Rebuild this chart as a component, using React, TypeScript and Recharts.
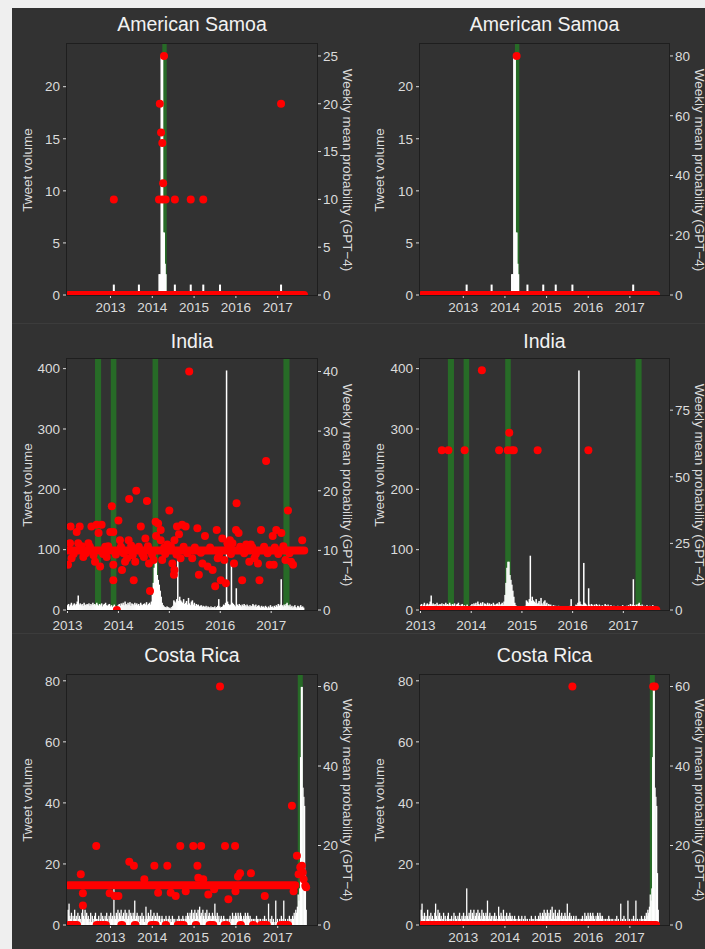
import React from "react";
import { ComposedChart, Bar, Line, Scatter, XAxis, YAxis, ReferenceArea } from "recharts";

const FONT = '"Liberation Sans", Arial, Helvetica, sans-serif';
const TEXT = "#dcdcdc";
const RED = "#ff0000";
const GREEN = "#276b27";

const WEEK = 7 / 365.25;
const INDIA_START = 2013.0;
const COSTA_START = 2011.99;

const yearTicks = [2013, 2014, 2015, 2016, 2017];

// tweet volume, American Samoa (sparse: [year, tweets])
const samoaVolume: [number, number][] = [
  [2013.08, 1], [2013.68, 1], [2014.17, 2], [2014.19, 2], [2014.22, 23], [2014.24, 23],
  [2014.26, 6], [2014.28, 6], [2014.3, 3], [2014.32, 2], [2014.54, 1], [2014.92, 1],
  [2015.22, 1], [2015.62, 1], [2017.08, 1],
];

// tweet volume, India (weekly from INDIA_START)
const indiaVolume = [
  8, 10, 6, 9, 12, 7, 9, 11, 8, 10,
  14, 24, 9, 11, 8, 10, 7, 12, 9, 8,
  10, 9, 11, 7, 10, 8, 12, 9, 10, 8,
  12, 9, 7, 10, 8, 11, 6, 9, 10, 12,
  8, 7, 9, 10, 6, 8, 5, 7, 9, 6,
  5, 4, 8, 10, 7, 11, 9, 12, 8, 14,
  10, 8, 12, 9, 13, 7, 11, 10, 8, 12,
  9, 11, 8, 10, 7, 12, 9, 8, 10, 11,
  9, 13, 8, 10, 12, 9, 14, 25, 45, 70,
  80, 80, 58, 50, 42, 32, 22, 12, 8, 6,
  5, 4, 6, 5, 3, 4, 2, 5, 7, 16,
  14, 12, 18, 90, 15, 22, 16, 14, 12, 18,
  10, 12, 15, 9, 20, 11, 8, 14, 16, 9,
  12, 7, 10, 8, 9, 6, 7, 8, 5, 7,
  6, 5, 7, 4, 6, 5, 3, 6, 4, 5,
  4, 6, 3, 5, 7, 18, 6, 4, 5, 6,
  9, 8, 12, 397, 14, 10, 8, 9, 78, 12,
  10, 8, 6, 36, 9, 7, 10, 8, 6, 9,
  7, 10, 8, 6, 9, 7, 5, 8, 6, 7,
  10, 8, 6, 9, 5, 7, 8, 6, 4, 7,
  5, 6, 4, 7, 5, 3, 6, 4, 8, 5,
  6, 4, 7, 5, 8, 6, 10, 7, 9, 51,
  8, 6, 9, 7, 10, 12, 8, 6, 9, 5,
  7, 4, 6, 8, 5, 3, 7, 6, 4, 8, 5, 6, 4,
];

// tweet volume, Costa Rica (weekly from COSTA_START)
const costaVolume = [
  5, 7, 3, 2, 4, 1, 3, 2, 5, 2,
  3, 1, 4, 2, 3, 2, 1, 4, 7, 3,
  2, 5, 3, 4, 2, 3, 1, 2, 4, 1,
  3, 2, 1, 3, 4, 2, 0, 2, 3, 1,
  2, 4, 1, 3, 2, 0, 3, 2, 4, 2,
  1, 3, 2, 4, 2, 3, 2, 12, 3, 2,
  4, 3, 5, 2, 4, 3, 5, 2, 3, 4,
  2, 5, 3, 4, 2, 3, 5, 2, 4, 3,
  2, 4, 3, 8, 2, 3, 4, 2, 3, 1,
  3, 2, 4, 2, 3, 1, 2, 6, 3, 2,
  4, 3, 2, 5, 2, 3, 1, 4, 2, 3,
  2, 4, 3, 2, 3, 1, 2, 3, 2, 1,
  2, 1, 3, 2, 1, 2, 3, 1, 2, 1,
  3, 2, 1, 2, 1, 0, 2, 1, 3, 2,
  1, 2, 1, 3, 2, 1, 2, 3, 2, 4,
  3, 2, 4, 3, 5, 2, 4, 3, 5, 2,
  4, 3, 5, 2, 6, 3, 4, 2, 5, 3,
  2, 4, 3, 5, 2, 3, 4, 2, 3, 2,
  4, 3, 2, 7, 3, 2, 4, 2, 3, 1,
  2, 3, 1, 2, 3, 2, 1, 2, 1, 2,
  1, 2, 3, 1, 2, 4, 2, 3, 2, 4,
  3, 2, 4, 3, 2, 4, 3, 2, 1, 3,
  2, 4, 3, 2, 4, 3, 2, 3, 1, 2,
  1, 2, 1, 2, 1, 3, 2, 1, 2, 1,
  2, 1, 0, 2, 1, 3, 1, 2, 1, 0,
  7, 1, 2, 1, 3, 1, 2, 0, 1, 8,
  1, 2, 1, 0, 2, 1, 3, 1, 2, 8,
  1, 2, 1, 0, 2, 1, 3, 2, 1, 2,
  3, 2, 4, 3, 5, 4, 6, 10, 8, 12,
  55, 78, 78, 45, 42, 39, 17, 5,
];

// green highlighted periods [from, to]
const samoaBands: [number, number][] = [[2014.24, 2014.345]];
const indiaBands: [number, number][] = [[2013.54, 2013.66], [2013.85, 2013.96], [2014.67, 2014.78], [2017.24, 2017.36]];
const costaBands: [number, number][] = [[2017.48, 2017.6]];

// weekly mean probability dots [year, probability]
const samoaDotsA: [number, number][] = [
  [2013.08, 10], [2014.16, 10], [2014.18, 20], [2014.21, 17], [2014.24, 15.9], [2014.24, 10],
  [2014.26, 11.7], [2014.28, 25], [2014.32, 10], [2014.54, 10], [2014.92, 10], [2015.22, 10], [2017.08, 20],
];
const samoaDotsB: [number, number][] = [[2014.28, 80]];

const indiaDotsA: [number, number][] = [
  [2013.06, 14], [2013.24, 14], [2013.18, 13.1], [2013.05, 11.2], [2013.21, 11.2], [2013.08, 8.7],
  [2013.01, 7.6], [2013.31, 8.9], [2013.41, 11.2], [2013.47, 14], [2013.57, 14.3], [2013.61, 12.9],
  [2013.54, 8.1], [2013.64, 7.3], [2013.67, 14.3], [2013.51, 9.2], [2013.87, 17.4], [2014.0, 15],
  [2013.84, 13.1], [2013.9, 13.1], [2014.03, 11.7], [2013.9, 7.6], [2013.9, 5], [2014.07, 6.7],
  [2013.97, 0], [2014.17, 8.7], [2014.2, 11.7], [2014.21, 18.6], [2013.77, 8.9], [2013.74, 10.6],
  [2014.13, 8.1], [2014.35, 20], [2014.56, 18.3], [2014.44, 14], [2014.53, 12], [2014.3, 5],
  [2014.33, 8.1], [2014.6, 7.8], [2014.62, 3.2], [2014.5, 8.9], [2014.73, 14.8], [2014.78, 14.5],
  [2014.83, 13.4], [2014.83, 11.7], [2014.74, 12.4], [2014.69, 8.4], [2014.86, 8.4], [2015.0, 16.7],
  [2015.15, 14], [2015.25, 14.3], [2015.32, 14], [2015.19, 12.7], [2015.1, 11.7], [2014.96, 11],
  [2015.22, 8.7], [2015.06, 7.8], [2015.1, 6.7], [2015.09, 5.9], [2015.45, 8.7], [2015.55, 13.7],
  [2015.7, 12.4], [2015.58, 5.9], [2015.65, 7.8], [2015.75, 7.3], [2015.85, 6.7], [2015.93, 13.4],
  [2016.04, 12], [2016.01, 5], [2015.9, 4], [2016.11, 4.5], [2016.14, 11.2], [2016.08, 8.4],
  [2016.19, 11.7], [2015.95, 8.7], [2016.32, 17.9], [2016.31, 13.4], [2016.36, 12.9], [2016.27, 7.8],
  [2016.24, 11.2], [2016.43, 5], [2016.51, 11], [2016.6, 11], [2016.67, 8.7], [2016.74, 7.8],
  [2016.8, 13.4], [2016.77, 5], [2016.57, 8.1], [2016.9, 25], [2016.97, 7.6], [2017.05, 7.6],
  [2017.03, 12.4], [2017.1, 13.4], [2017.2, 12.9], [2017.33, 16.7], [2017.28, 8.4], [2017.39, 8.1],
  [2017.43, 7.6], [2017.61, 11.7], [2015.39, 40],
  [2013.12, 9.4], [2013.28, 10.7], [2013.36, 9.5], [2013.44, 10.6], [2013.7, 9.4], [2013.8, 10.7],
  [2013.95, 9.3], [2014.05, 10.6], [2014.1, 9.5], [2014.25, 10.8], [2014.28, 9.2], [2014.4, 10.6],
  [2014.47, 9.4], [2014.58, 10.7], [2014.66, 9.3], [2014.9, 10.5], [2014.92, 9.4], [2015.03, 10.7],
  [2015.14, 9.3], [2015.28, 10.6], [2015.35, 9.5], [2015.5, 10.5], [2015.62, 9.6], [2015.8, 10.5],
  [2015.98, 9.4], [2016.16, 10.6], [2016.21, 9.4], [2016.39, 10.6], [2016.47, 9.5], [2016.63, 10.5],
  [2016.7, 9.4], [2016.86, 10.6], [2016.93, 9.5], [2017.07, 10.5], [2017.14, 9.4], [2017.24, 10.7],
  [2017.36, 9.5],
];
const indiaDotsB: [number, number][] = [
  [2013.42, 60], [2013.55, 60], [2013.87, 60], [2014.21, 90], [2014.55, 60], [2014.72, 60],
  [2014.75, 66.5], [2014.8, 60], [2014.84, 60], [2015.31, 60], [2016.31, 60],
];

const costaDotsA: [number, number][] = [
  [2012.29, 12.8], [2012.34, 8], [2012.34, 4.9], [2012.66, 19.9], [2012.98, 8], [2013.1, 7.3],
  [2013.19, 7.3], [2013.45, 15.9], [2013.56, 14.9], [2013.81, 11.5], [2014.05, 14.9], [2014.14, 8.1],
  [2014.36, 14.9], [2014.44, 8.1], [2014.56, 7.3], [2014.67, 19.9], [2014.8, 8.5], [2014.98, 19.9],
  [2015.08, 14.9], [2015.1, 11.9], [2015.17, 19.9], [2015.22, 11.5], [2015.34, 7.7], [2015.48, 9],
  [2015.62, 60], [2015.74, 19.9], [2015.82, 6.5], [2015.98, 19.9], [2015.99, 8.5], [2016.05, 12.2],
  [2016.1, 13], [2016.36, 13], [2016.69, 7.3], [2017.34, 30], [2017.38, 8.5], [2017.46, 17.4],
  [2017.5, 12.8], [2017.54, 14.5], [2017.58, 14.9], [2017.6, 13.2], [2017.62, 11.5], [2017.66, 9.9],
  [2017.68, 9.5],
];
const costaDotsB: [number, number][] = [[2015.62, 60], [2017.56, 60], [2017.6, 60]];

// stretches where the weekly dots sit on one level: [from, to, probability]
const samoaRuns: [number, number, number][] = [[2012.0, 2017.63, 0]];
const indiaRunsA: [number, number, number][] = [[2013.0, 2017.65, 10]];
const indiaRunsB: [number, number, number][] = [[2013.0, 2017.65, 0]];
const costaRunsA: [number, number, number][] = [
  [2012.0, 2017.42, 10],
  [2012.0, 2012.2, 0], [2012.67, 2012.89, 0], [2013.26, 2013.28, 0], [2013.58, 2013.6, 0],
  [2013.98, 2014.08, 0], [2014.32, 2014.33, 0], [2014.61, 2014.75, 0], [2015.04, 2015.05, 0],
  [2015.37, 2015.46, 0], [2015.73, 2015.78, 0], [2016.11, 2016.12, 0], [2016.41, 2016.42, 0],
  [2016.6, 2016.74, 0], [2017.07, 2017.25, 0],
];
const costaRunsB: [number, number, number][] = [[2012.0, 2017.63, 0]];

const ROWS = [
  { top: 44, bottom: 295, title: 24, xMargin: 4 },
  { top: 359, bottom: 610, title: 341, xMargin: 7 },
  { top: 675, bottom: 925, title: 655, xMargin: 4 },
];

const weekly = (start: number, vals: number[]) => vals.map((v, i) => ({ x: start + i * WEEK, v }));
const sparse = (pts: [number, number][]) => pts.map(([x, v]) => ({ x, v }));

const panels = [
  {
    title: "American Samoa", row: 0, col: 0, volume: sparse(samoaVolume), barW: 2,
    xDomain: [2011.96, 2017.94], leftTop: 24.1, leftTicks: [0, 5, 10, 15, 20],
    rightTop: 26.25, rightTicks: [0, 5, 10, 15, 20, 25],
    bands: samoaBands, dots: samoaDotsA, runs: samoaRuns,
  },
  {
    title: "American Samoa", row: 0, col: 1, volume: sparse(samoaVolume), barW: 2,
    xDomain: [2011.96, 2017.94], leftTop: 24.1, leftTicks: [0, 5, 10, 15, 20],
    rightTop: 84, rightTicks: [0, 20, 40, 60, 80],
    bands: samoaBands, dots: samoaDotsB, runs: samoaRuns,
  },
  {
    title: "India", row: 1, col: 0, volume: weekly(INDIA_START, indiaVolume), barW: 1.5,
    xDomain: [2012.99, 2017.9], leftTop: 416, leftTicks: [0, 100, 200, 300, 400],
    rightTop: 42.1, rightTicks: [0, 10, 20, 30, 40],
    bands: indiaBands, dots: indiaDotsA, runs: indiaRunsA,
  },
  {
    title: "India", row: 1, col: 1, volume: weekly(INDIA_START, indiaVolume), barW: 1.5,
    xDomain: [2012.99, 2017.9], leftTop: 416, leftTicks: [0, 100, 200, 300, 400],
    rightTop: 94.2, rightTicks: [0, 25, 50, 75],
    bands: indiaBands, dots: indiaDotsB, runs: indiaRunsB,
  },
  {
    title: "Costa Rica", row: 2, col: 0, volume: weekly(COSTA_START, costaVolume), barW: 1.3,
    xDomain: [2011.96, 2017.94], leftTop: 81.9, leftTicks: [0, 20, 40, 60, 80],
    rightTop: 62.9, rightTicks: [0, 20, 40, 60],
    bands: costaBands, dots: costaDotsA, runs: costaRunsA,
  },
  {
    title: "Costa Rica", row: 2, col: 1, volume: weekly(COSTA_START, costaVolume), barW: 1.3,
    xDomain: [2011.96, 2017.94], leftTop: 81.9, leftTicks: [0, 20, 40, 60, 80],
    rightTop: 62.9, rightTicks: [0, 20, 40, 60],
    bands: costaBands, dots: costaDotsB, runs: costaRunsB,
  },
];

const tickStyle = { fill: TEXT, fontSize: 13.5, fontFamily: FONT };

function Panel({ cfg }: { cfg: any }) {
  const colX = cfg.col === 0 ? 0 : 352;
  const chartW = cfg.col === 0 ? 352 : 353;
  const leftW = cfg.col === 0 ? 67 : 68;
  const rightW = cfg.col === 0 ? 35 : 36;
  const row = ROWS[cfg.row];
  const plotH = row.bottom - row.top;
  const topPad = 10;
  const xAxisH = 30;
  const plotLeft = colX + leftW;
  const plotW = chartW - leftW - rightW;
  const midX = plotLeft + plotW / 2;
  const midY = row.top + plotH / 2;
  const barW = cfg.barW;

  const volBar = (p: any) => {
    if (!p.height || p.height <= 0) return <g />;
    const cx = p.x + p.width / 2;
    return <rect x={cx - barW / 2} y={p.y} width={barW} height={p.height} fill="#ffffff" />;
  };

  return (
    <>
      <div style={{ position: "absolute", left: midX, top: row.title, transform: "translate(-50%, -50%)", color: "#f2f2f2", fontSize: 19.5, fontFamily: FONT, whiteSpace: "nowrap" }}>
        {cfg.title}
      </div>
      <div style={{ position: "absolute", left: colX + 26.5, top: midY, transform: "translate(-50%, -50%) rotate(-90deg)", color: TEXT, fontSize: 13.5, fontFamily: FONT, whiteSpace: "nowrap" }}>
        Tweet volume
      </div>
      <div style={{ position: "absolute", left: colX + 347, top: midY, transform: "translate(-50%, -50%) rotate(90deg)", color: TEXT, fontSize: 13.5, fontFamily: FONT, whiteSpace: "nowrap" }}>
        Weekly mean probability (GPT−4)
      </div>
      <div style={{ position: "absolute", left: colX, top: row.top - topPad }}>
        <ComposedChart width={chartW} height={plotH + topPad + xAxisH} data={cfg.volume} margin={{ top: topPad, right: 0, bottom: 0, left: 0 }}>
          <XAxis dataKey="x" type="number" domain={cfg.xDomain} ticks={yearTicks} allowDataOverflow interval={0}
            height={xAxisH} axisLine={false} tickSize={3} tickMargin={row.xMargin} tickLine={{ stroke: TEXT }} tick={tickStyle} />
          <YAxis yAxisId="left" type="number" domain={[0, cfg.leftTop]} ticks={cfg.leftTicks} allowDataOverflow interval={0}
            width={leftW} axisLine={false} tickSize={4} tickMargin={3} tickLine={{ stroke: TEXT }} tick={tickStyle} />
          <YAxis yAxisId="right" orientation="right" type="number" domain={[0, cfg.rightTop]} ticks={cfg.rightTicks} allowDataOverflow interval={0}
            width={rightW} axisLine={false} tickSize={4} tickMargin={2} tickLine={{ stroke: TEXT }} tick={tickStyle} />
          {cfg.bands.map(([a, b]: [number, number], i: number) => (
            <ReferenceArea key={"g" + i} yAxisId="left" x1={a} x2={b} fill={GREEN} fillOpacity={1} stroke="none" />
          ))}
          <Bar yAxisId="left" dataKey="v" fill="#ffffff" shape={volBar} isAnimationActive={false} />
          {cfg.runs.map(([a, b, p]: [number, number, number], i: number) => (
            <Line key={"r" + i} yAxisId="right" data={[{ x: a, p }, { x: b, p }]} dataKey="p" stroke={RED}
              strokeWidth={8} strokeLinecap="round" dot={false} activeDot={false} isAnimationActive={false} />
          ))}
          <Scatter yAxisId="right" data={cfg.dots.map(([x, p]: [number, number]) => ({ x, p }))} dataKey="p" fill={RED}
            shape={(p: any) => <circle cx={p.cx} cy={p.cy} r={4} fill={RED} />} isAnimationActive={false} />
        </ComposedChart>
      </div>
      <div style={{ position: "absolute", left: plotLeft - 1, top: row.top - 1, width: plotW + 2, height: plotH + 2, border: "1px solid #1e1e1e", boxSizing: "border-box", pointerEvents: "none" }} />
    </>
  );
}

export default function App() {
  return (
    <div style={{ position: "absolute", left: 0, top: 0, width: 705, height: 949, background: "#efefef", overflow: "hidden" }}>
      <div style={{ position: "absolute", left: 12, top: 8, width: 693, height: 941, background: "#323232" }} />
      <div style={{ position: "absolute", left: 12, top: 323, width: 693, height: 1, background: "#3c3c3c" }} />
      <div style={{ position: "absolute", left: 12, top: 633, width: 693, height: 1, background: "#3c3c3c" }} />
      {panels.map((cfg, i) => (
        <Panel key={i} cfg={cfg} />
      ))}
    </div>
  );
}
